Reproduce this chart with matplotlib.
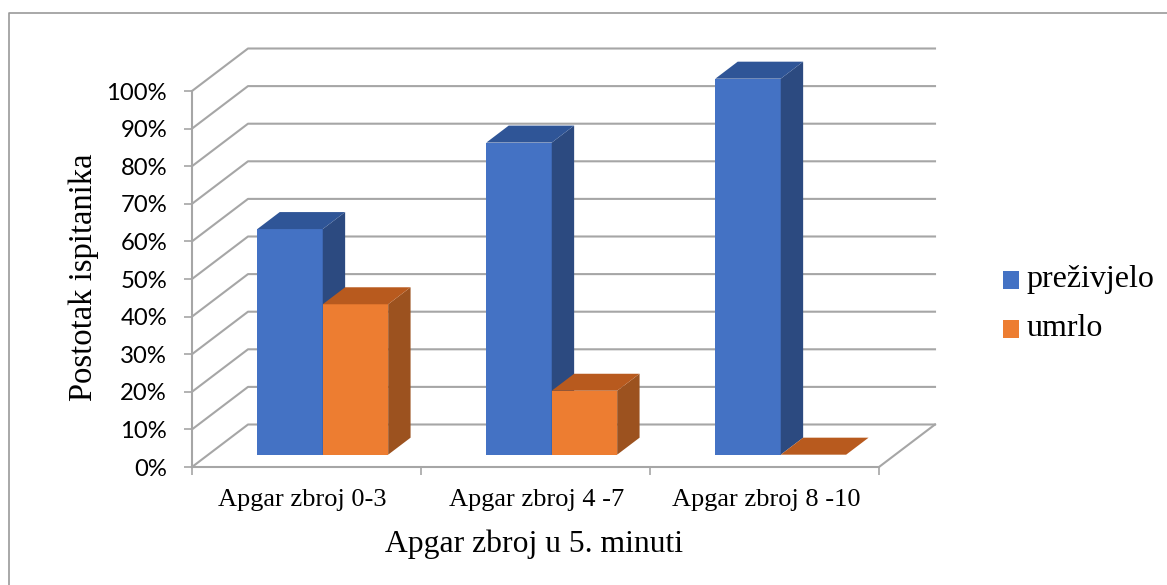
import matplotlib
matplotlib.use("Agg")
import matplotlib.pyplot as plt
from matplotlib.patches import Polygon, Patch
from matplotlib.lines import Line2D

categories = ["Apgar zbroj 0-3", "Apgar zbroj 4 -7", "Apgar zbroj 8 -10"]
prezivjelo = [60, 83, 100]
umrlo = [40, 17, 0]
y_ticks = [0, 10, 20, 30, 40, 50, 60, 70, 80, 90, 100]

W, H = 1167, 585
GRID = "#a6a6a6"
SERIF = "Liberation Serif"

fig = plt.figure(figsize=(W / 100, H / 100), dpi=100)
# front floor corners in pixels: (192,467) to (879,91)
ax = fig.add_axes([192 / W, 1 - 467 / H, 687 / W, 376 / H])
ax.set_xlim(0, 3)
ax.set_ylim(0, 100)

# depth of the 3d box, in data units
DX = 56 / 229
DY = 42.5 / 3.76


def at(x, y, d):
    return (x + DX * d, y + DY * d)


def draw_bar(left, width, val, front, side, top):
    d0, d1 = 0.29, 0.69
    r = left + width
    ax.add_patch(Polygon([at(left, 0, d0), at(r, 0, d0), at(r, val, d0), at(left, val, d0)],
                         fc=front, ec="none", clip_on=False, zorder=3))
    ax.add_patch(Polygon([at(r, 0, d0), at(r, 0, d1), at(r, val, d1), at(r, val, d0)],
                         fc=side, ec="none", clip_on=False, zorder=3))
    ax.add_patch(Polygon([at(left, val, d0), at(r, val, d0), at(r, val, d1), at(left, val, d1)],
                         fc=top, ec="none", clip_on=False, zorder=3))


# grid on the walls
for t in y_ticks:
    ax.plot([at(0, t, 0)[0], at(0, t, 1)[0], at(3, t, 1)[0]],
            [at(0, t, 0)[1], at(0, t, 1)[1], at(3, t, 1)[1]],
            color=GRID, lw=1.5, clip_on=False, zorder=1)
ax.plot([at(3, 0, 0)[0], at(3, 0, 1)[0]], [at(3, 0, 0)[1], at(3, 0, 1)[1]],
        color=GRID, lw=1.5, clip_on=False, zorder=1)

bw = 1 / 3.5
for i in range(len(categories)):
    left = i + 0.75 * bw
    draw_bar(left, bw, prezivjelo[i], "#4472c4", "#2c4a80", "#2f5597")
    draw_bar(left + bw, bw, umrlo[i], "#ed7d31", "#9c521f", "#b85a1e")

for s in ["top", "right"]:
    ax.spines[s].set_visible(False)
for s in ["left", "bottom"]:
    ax.spines[s].set_color(GRID)
    ax.spines[s].set_linewidth(1.5)

ax.set_yticks(y_ticks)
ax.set_yticklabels([f"{t}%" for t in y_ticks], family="Lato", fontsize=17.2)
ax.set_xticks([0, 1, 2, 3])
ax.set_xticklabels([])
ax.set_xticks([0.4825, 1.507, 2.507], minor=True)
ax.set_xticklabels(categories, minor=True, family=SERIF, fontsize=19)
ax.tick_params(axis="y", length=6, width=1.2, color=GRID, pad=12)
ax.tick_params(axis="x", which="major", length=6, width=1.2, color=GRID)
ax.tick_params(axis="x", which="minor", length=0, pad=15.5)
ax.set_ylabel("Postotak ispitanika", family=SERIF, fontsize=23.5, va="center")
ax.yaxis.set_label_coords((84 - 192) / 687, 0.505)
ax.set_xlabel("Apgar zbroj u 5. minuti", family=SERIF, fontsize=22.8, va="center")
ax.xaxis.set_label_coords((534 - 192) / 687, (467 - 544) / 376)

handles = [Patch(fc="#4472c4", label="preživjelo"), Patch(fc="#ed7d31", label="umrlo")]
leg = fig.legend(handles=handles, loc="center left", bbox_to_anchor=(1003 / W, 1 - 304 / H),
                 frameon=False, prop={"family": SERIF, "size": 23}, handlelength=0.5,
                 handleheight=0.5, handletextpad=0.25, labelspacing=0.62, borderpad=0,
                 borderaxespad=0)
# squares sit a little lower than matplotlib puts them
for p in leg.get_patches():
    p.set_y(p.get_y() - 3)

# outer chart border, only top and left show in the crop
fig.add_artist(Line2D([8.5 / W, 8.5 / W, 1], [0, 1 - 12.5 / H, 1 - 12.5 / H],
                      transform=fig.transFigure, color="#999999", lw=1.2))

fig.savefig("out.png", dpi=100)
